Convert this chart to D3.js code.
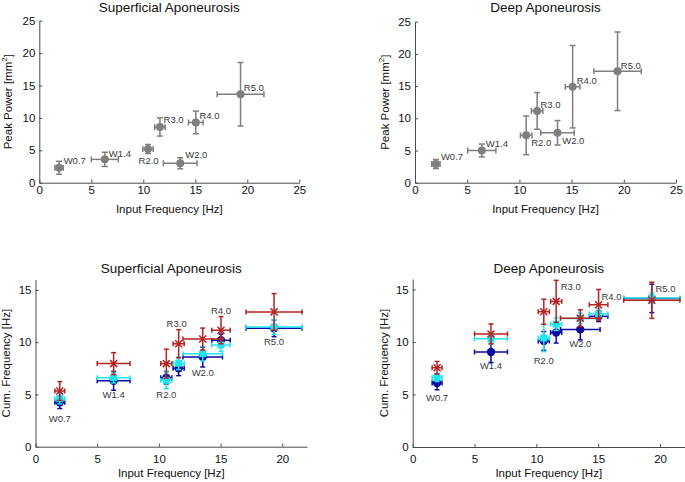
<!DOCTYPE html>
<html><head><meta charset="utf-8">
<script src="https://cdn.jsdelivr.net/npm/d3@7"></script>
<style>
body{margin:0;background:#fff;}
text{font-family:"Liberation Sans",Arial,sans-serif;}
</style>
</head><body>
<svg id="c" width="685" height="482"></svg>
<script>
// ---------- data ----------
const conditions = ['W0.7','W1.4','R2.0','R3.0','W2.0','R4.0','R5.0'];

// Peak power vs input frequency (top row)
const supInputFreq    = [1.9, 6.3, 10.45, 11.6, 13.55, 15.05, 19.35];
const supInputFreqErr = [0.4, 1.3, 0.5, 0.5, 1.62, 0.7, 2.25];
const supPeakPower    = [2.3, 3.6, 5.2, 8.6, 3.0, 9.3, 13.65];
const supPeakPowerErr = [1.0, 1.1, 0.7, 1.4, 0.85, 1.75, 4.9];

const deepInputFreq    = [2.0, 6.4, 10.65, 11.7, 13.65, 15.1, 19.4];
const deepInputFreqErr = [0.4, 1.35, 0.55, 0.55, 1.6, 0.7, 2.27];
const deepPeakPower    = [2.9, 5.0, 7.35, 11.15, 7.75, 14.9, 17.3];
const deepPeakPowerErr = [0.7, 1.0, 3.0, 2.85, 1.9, 6.4, 6.1];

// Cumulative frequency vs input frequency (bottom row)
const cumInputFreq    = [1.97, 6.33, 10.6, 11.6, 13.55, 15.03, 19.33];
const cumInputFreqErr = [0.4, 1.33, 0.45, 0.45, 1.6, 0.75, 2.27];

const supCumRed     = [5.33, 7.95, 7.95, 9.85, 10.3, 11.15, 12.9];
const supCumRedErr  = [0.9, 1.05, 1.38, 1.35, 1.05, 1.3, 1.75];
const supCumCyan    = [4.6, 6.6, 6.35, 7.98, 8.9, 9.73, 11.45];
const supCumCyanErr = [0.5, 0.5, 0.8, 0.6, 0.7, 0.6, 0.7];
const supCumBlue    = [4.25, 6.3, 6.6, 7.5, 8.58, 10.18, 11.33];
const supCumBlueErr = [0.6, 0.9, 0.6, 0.7, 0.95, 0.6, 0.8];

const deepCumRed     = [7.55, 10.77, 12.88, 13.87, 12.27, 13.55, 13.97];
const deepCumRedErr  = [0.6, 0.95, 1.2, 2.0, 0.8, 1.45, 1.72];
const deepCumCyan    = [6.63, 10.3, 10.38, 11.7, 12.25, 12.68, 14.2];
const deepCumCyanErr = [0.4, 0.5, 1.3, 0.6, 0.5, 0.5, 0.5];
const deepCumBlue    = [6.1, 9.05, 10.1, 10.9, 11.2, 12.45, 14.15];
const deepCumBlueErr = [0.65, 1.0, 0.9, 1.0, 1.0, 0.5, 1.35];

const peakTicks = [0, 5, 10, 15, 20, 25];
const cumYTicks = [0, 5, 10, 15];
const cumXTicks = [0, 5, 10, 15, 20];

// ---------- styling / layout ----------
const C = {gray:'#7f7f7f', red:'#b42222', cyan:'#1ee6ee', blue:'#0a0aa0', axis:'#4a4a4a', label:'#3a3a3a'};
const svg = d3.select('#c');

function errorBars(g, xs, ys, dx, dy, sx, sy, color, cap){
  xs.forEach((x,i)=>{
    const px=sx(x), py=sy(ys[i]);
    const y1=sy(ys[i]-dy[i]), y2=sy(ys[i]+dy[i]);
    const x1=sx(x-dx[i]), x2=sx(x+dx[i]);
    const gg=g.append('g').attr('stroke',color).attr('stroke-width',1.5).attr('fill','none');
    gg.append('line').attr('x1',px).attr('x2',px).attr('y1',y1).attr('y2',y2);
    gg.append('line').attr('x1',px-cap).attr('x2',px+cap).attr('y1',y1).attr('y2',y1);
    gg.append('line').attr('x1',px-cap).attr('x2',px+cap).attr('y1',y2).attr('y2',y2);
    gg.append('line').attr('x1',x1).attr('x2',x2).attr('y1',py).attr('y2',py);
    gg.append('line').attr('x1',x1).attr('x2',x1).attr('y1',py-cap).attr('y2',py+cap);
    gg.append('line').attr('x1',x2).attr('x2',x2).attr('y1',py-cap).attr('y2',py+cap);
  });
}

function panel(cfg){
  const sx=d3.scaleLinear().domain(cfg.xDom).range([cfg.l,cfg.r]);
  const sy=d3.scaleLinear().domain(cfg.yDom).range([cfg.b,cfg.t]);
  const g=svg.append('g');
  // axes
  const ax=g.append('g').attr('transform',`translate(0,${cfg.b})`)
    .call(d3.axisBottom(sx).tickValues(cfg.xTicks).tickSizeInner(-3).tickSizeOuter(0).tickPadding(cfg.xPad));
  const ay=g.append('g').attr('transform',`translate(${cfg.l},0)`)
    .call(d3.axisLeft(sy).tickValues(cfg.yTicks).tickSizeInner(-3).tickSizeOuter(0).tickPadding(4));
  [ax,ay].forEach(a=>{
    a.selectAll('path,line').attr('stroke',C.axis);
    a.selectAll('text').attr('font-size',11.5).attr('fill','#111')
      .attr('font-family','"Liberation Sans",Arial,sans-serif');
  });
  // title
  g.append('text').attr('x',(cfg.l+cfg.r)/2).attr('y',cfg.titleY).attr('text-anchor','middle')
    .attr('font-size',13.5).attr('fill','#111').text(cfg.title);
  // x label
  g.append('text').attr('x',(cfg.l+cfg.r)/2).attr('y',cfg.xLabY).attr('text-anchor','middle')
    .attr('font-size',11.5).attr('fill','#111').text('Input Frequency [Hz]');
  // y label
  const yl=g.append('text').attr('transform',`translate(${cfg.yLabX},${(cfg.t+cfg.b)/2}) rotate(-90)`)
    .attr('text-anchor','middle').attr('font-size',11.5).attr('fill','#111');
  if(cfg.peak){
    yl.append('tspan').text('Peak Power [mm');
    yl.append('tspan').attr('font-size',8).attr('dy',-5).text('2');
    yl.append('tspan').attr('dy',5).text(']');
  } else yl.text('Cum. Frequency [Hz]');
  return {g,sx,sy};
}

function label(g,x,y,txt,anchor){
  g.append('text').attr('x',x).attr('y',y).attr('text-anchor',anchor)
    .attr('dominant-baseline','central').attr('font-size',9.5).attr('fill',C.label).text(txt);
}

// ---------- top row ----------
function peakPanel(cfg, xs, xe, ys, ye, offs){
  const {g,sx,sy}=panel(cfg);
  errorBars(g,xs,ys,xe,ye,sx,sy,C.gray,3);
  g.selectAll('circle.p').data(xs).enter().append('circle')
    .attr('cx',d=>sx(d)).attr('cy',(d,i)=>sy(ys[i])).attr('r',4).attr('fill',C.gray);
  conditions.forEach((c,i)=>{
    const o=offs[i];
    label(g,sx(xs[i])+o[1],sy(ys[i])+o[2],c,o[0]);
  });
}

peakPanel({l:39.3,r:299.3,b:182.7,t:20.7,xDom:[0,25],yDom:[0,25],xTicks:peakTicks,yTicks:peakTicks,
  xPad:3,title:'Superficial Aponeurosis',titleY:12,xLabY:213,yLabX:12,peak:true},
  supInputFreq,supInputFreqErr,supPeakPower,supPeakPowerErr,
  [['start',4.6,-7.7],['start',4,-6],['middle',0.6,11],['start',3.6,-7],['start',5,-8.3],['start',3.6,-6.6],['start',3.3,-7]]);

peakPanel({l:415,r:676,b:182.7,t:21.7,xDom:[0,25],yDom:[0,25],xTicks:peakTicks,yTicks:peakTicks,
  xPad:3,title:'Deep Aponeurosis',titleY:12,xLabY:213,yLabX:389,peak:true},
  deepInputFreq,deepInputFreqErr,deepPeakPower,deepPeakPowerErr,
  [['start',5,-7.3],['start',4,-7],['start',5,7.3],['start',3.3,-6.7],['start',4.7,7.3],['start',4,-6.7],['start',3.3,-6]]);

// ---------- bottom row ----------
function cumPanel(cfg, red, redE, cyan, cyanE, blue, blueE, offs){
  const {g,sx,sy}=panel(cfg);
  const xs=cumInputFreq, xe=cumInputFreqErr;
  // blue
  errorBars(g,xs,blue,xe,blueE,sx,sy,C.blue,2.5);
  g.append('g').selectAll('circle').data(xs).enter().append('circle')
    .attr('cx',d=>sx(d)).attr('cy',(d,i)=>sy(blue[i])).attr('r',4.2).attr('fill',C.blue);
  // cyan
  errorBars(g,xs,cyan,xe,cyanE,sx,sy,C.cyan,2.5);
  g.append('g').selectAll('rect').data(xs).enter().append('rect')
    .attr('x',d=>sx(d)-3.5).attr('y',(d,i)=>sy(cyan[i])-3.5).attr('width',7).attr('height',7).attr('fill',C.cyan);
  // red
  errorBars(g,xs,red,xe,redE,sx,sy,C.red,2.5);
  const rx=g.append('g').attr('stroke',C.red).attr('stroke-width',1.5);
  xs.forEach((x,i)=>{
    const px=sx(x), py=sy(red[i]), s=3.5;
    rx.append('line').attr('x1',px-s).attr('x2',px+s).attr('y1',py-s).attr('y2',py+s);
    rx.append('line').attr('x1',px-s).attr('x2',px+s).attr('y1',py+s).attr('y2',py-s);
  });
  conditions.forEach((c,i)=>{
    const o=offs[i];
    const ref = o[1]==='hi' ? red[i] : blue[i];
    label(g,sx(xs[i])+o[2],sy(ref)+o[3],c,o[0]);
  });
}

cumPanel({l:35.5,r:307,b:446.7,t:279.5,xDom:[0,22],yDom:[0,16],xTicks:cumXTicks,yTicks:cumYTicks,
  xPad:8,title:'Superficial Aponeurosis',titleY:273,xLabY:477,yLabX:10,peak:false},
  supCumRed,supCumRedErr,supCumCyan,supCumCyanErr,supCumBlue,supCumBlueErr,
  [['middle','lo',0,16],['middle','lo',0,14],['middle','lo',0,17],['middle','hi',-2,-20.5],['middle','lo',0,15],['middle','hi',0,-20],['middle','lo',0,13.4]]);

cumPanel({l:412.7,r:684.8,b:447,t:279,xDom:[0,22],yDom:[0,16],xTicks:cumXTicks,yTicks:cumYTicks,
  xPad:8,title:'Deep Aponeurosis',titleY:273,xLabY:477,yLabX:388,peak:false},
  deepCumRed,deepCumRedErr,deepCumCyan,deepCumCyanErr,deepCumBlue,deepCumBlueErr,
  [['middle','lo',0,15],['middle','lo',0,13.6],['middle','lo',0,19.5],['start','hi',4.5,-15],['middle','lo',0,14.3],['start','hi',2.8,-8.7],['start','hi',3.6,-11.7]]);
</script>
</body></html>
